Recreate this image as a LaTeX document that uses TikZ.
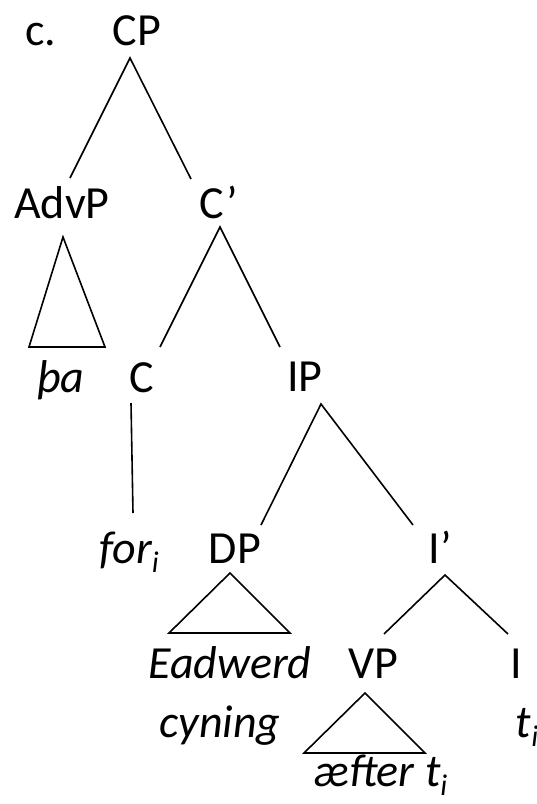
\documentclass[tikz,border=0pt]{standalone}
\usepackage{fontspec}
\setmainfont{Carlito}
\begin{document}
\begin{tikzpicture}[x=1pt,y=-1pt,
  lbl/.style={anchor=base,inner sep=0pt,font=\fontsize{46}{55}\selectfont},
  ilbl/.style={lbl,font=\fontsize{46}{55}\selectfont\itshape},
  branch/.style={line width=1.6pt,line join=miter}]
\newcommand{\subi}{\raisebox{-0.2em}{\fontsize{30}{30}\selectfont\itshape i}}
\useasboundingbox (0,0) rectangle (537,804);

% labels
\node[lbl] (ex) at (41,45) {c.};
\node[lbl] (cp) at (137,45) {CP};
\node[lbl] (advp) at (62,218) {AdvP};
\node[lbl] (cbar) at (219,218) {C’};
\node[ilbl] (tha) at (61,392) {þa};
\node[lbl] (c) at (142,392) {C};
\node[lbl] (ip) at (305,391) {IP};
\node[ilbl] (for) at (129,563) {for\subi};
\node[lbl] (dp) at (235,563) {DP};
\node[lbl] (ibar) at (440,563) {I’};
\node[ilbl] (eadwerd) at (230,678) {Eadwerd};
\node[lbl] (vp) at (373,678) {VP};
\node[lbl] (i) at (516,678) {I};
\node[ilbl] (cyning) at (220,737) {cyning};
\node[ilbl] (ti) at (527,737) {t\subi};
\node[ilbl] (aefter) at (381,786) {æfter t\subi};

% branch end points
\coordinate (cp-b) at (130,58);
\coordinate (advp-t) at (70,178);
\coordinate (cbar-t) at (191,179);
\coordinate (advp-b) at (63,237);
\coordinate (tha-l) at (29,347);
\coordinate (tha-r) at (105,347);
\coordinate (cbar-b) at (220,227);
\coordinate (c-t) at (160,347);
\coordinate (ip-t) at (280,347);
\coordinate (c-b) at (131,403);
\coordinate (for-t) at (133,513);
\coordinate (ip-b) at (321,404);
\coordinate (dp-t) at (261,525);
\coordinate (ibar-t) at (413,525);
\coordinate (dp-b) at (230,573);
\coordinate (ead-l) at (169,633);
\coordinate (ead-r) at (290,633);
\coordinate (ibar-b) at (445,575);
\coordinate (vp-t) at (384,634);
\coordinate (i-t) at (508,634);
\coordinate (vp-b) at (365,693);
\coordinate (aef-l) at (304,753);
\coordinate (aef-r) at (425,753);

% branches
\draw[branch] (advp-t) -- (cp-b) -- (cbar-t);
\draw[branch] (advp-b) -- (tha-l) -- (tha-r) -- cycle;
\draw[branch] (c-t) -- (cbar-b) -- (ip-t);
\draw[branch] (c-b) -- (for-t);
\draw[branch] (dp-t) -- (ip-b) -- (ibar-t);
\draw[branch] (dp-b) -- (ead-l) -- (ead-r) -- cycle;
\draw[branch] (vp-t) -- (ibar-b) -- (i-t);
\draw[branch] (vp-b) -- (aef-l) -- (aef-r) -- cycle;
\end{tikzpicture}
\end{document}
